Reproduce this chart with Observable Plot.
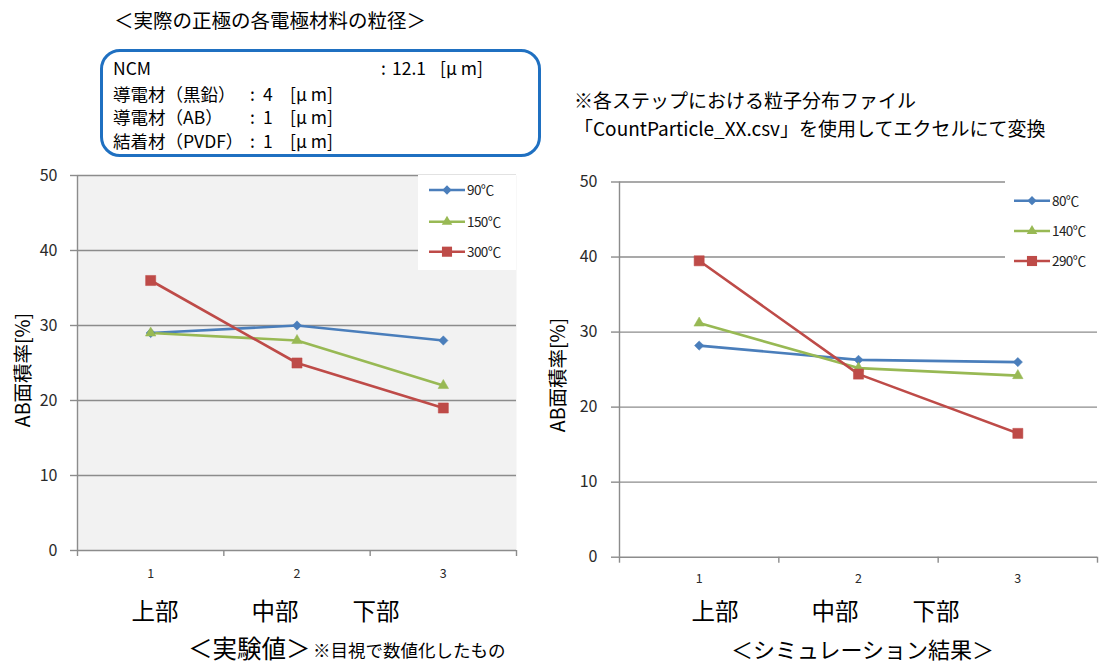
<!DOCTYPE html>
<html><head><meta charset="utf-8">
<script src="https://cdn.jsdelivr.net/npm/d3@7"></script>
<script src="https://cdn.jsdelivr.net/npm/@observablehq/plot@0.6"></script>
<style>
body{margin:0;background:#fff;}
#root{position:relative;width:1102px;height:664px;overflow:hidden;font-family:"Noto Sans CJK JP","Noto Sans",sans-serif;color:#000;}
.t{position:absolute;white-space:nowrap;}
.p{position:absolute;}
</style></head><body><div id="root"></div>
<script>
// ---- data ----
const positions = [1, 2, 3];
const positionNames = ["上部", "中部", "下部"];
const yTicks = [0, 10, 20, 30, 40, 50];

const expSeries = ["90℃", "150℃", "300℃"];
const exp90 = [29, 30, 28];
const exp150 = [29, 28, 22];
const exp300 = [36, 25, 19];

const simSeries = ["80℃", "140℃", "290℃"];
const sim80 = [28.2, 26.3, 26.0];
const sim140 = [31.2, 25.2, 24.2];
const sim290 = [39.5, 24.4, 16.5];

const materialNames = ["NCM", "導電材（黒鉛）", "導電材（AB）", "結着材（PVDF）"];
const materialSizes = ["12.1", "4", "1", "1"];
const unitText = "[μ m]";

const titleText = "＜実際の正極の各電極材料の粒径＞";
const noteLines = ["※各ステップにおける粒子分布ファイル", "「CountParticle_XX.csv」を使用してエクセルにて変換"];
const yTitle = "AB面積率[%]";
const expCaption = "＜実験値＞";
const expNote = "※目視で数値化したもの";
const simCaption = "＜シミュレーション結果＞";

// ---- styles ----
const colors = ["#4a7ebb", "#98b954", "#be4b48"];
const symbols = ["diamond2", "triangle", "square"];
const symR = [4.2, 3.9, 5.7];
const FONT = '"Noto Sans CJK JP","Noto Sans",sans-serif';
const root = document.getElementById("root");

function txt(s, x, cy, size, o = {}) {
  const d = document.createElement("div");
  d.className = "t";
  d.textContent = s;
  d.style.left = x + "px";
  d.style.top = (cy - size * 0.56) + "px";
  d.style.fontSize = size + "px";
  d.style.lineHeight = (size * 1.12) + "px";
  if (o.center) d.style.transform = "translateX(-50%)";
  if (o.color) d.style.color = o.color;
  if (o.ls) d.style.letterSpacing = o.ls;
  if (o.family) d.style.fontFamily = o.family;
  root.appendChild(d);
  return d;
}

function chart(cfg) {
  const {series, values, left, top, width, height, ml, mr, mt, mb, bg, tickPad, tickSize, xPad} = cfg;
  const marks = [];
  if (bg) marks.push(Plot.frame({fill: bg, stroke: "none"}));
  marks.push(Plot.ruleY(yTicks.slice(1), {stroke: "#8c8c8c", strokeWidth: 1.4}));
  marks.push(Plot.ruleY([0], {stroke: "#8c8c8c", strokeWidth: 1.4}));
  marks.push(Plot.ruleX([0.5], {stroke: "#8c8c8c", strokeWidth: 1.4}));
  marks.push(Plot.axisY({ticks: yTicks, tickSize, tickPadding: tickPad, stroke: "#8c8c8c", strokeWidth: 1.4, fill: "#2a2a2a", fontSize: 16, label: null}));
  marks.push(Plot.axisX({ticks: [0.5, 1.5, 2.5, 3.5], tickSize: 6, tickFormat: () => "", stroke: "#8c8c8c", strokeWidth: 1.4, label: null}));
  marks.push(Plot.axisX({ticks: positions, tickSize: 0, tickPadding: xPad, tickFormat: d => String(d), fill: "#2a2a2a", fontSize: 12.5, label: null}));
  series.forEach((s, i) => {
    const data = positions.map((p, j) => ({pos: p, v: values[i][j]}));
    marks.push(Plot.line(data, {x: "pos", y: "v", stroke: colors[i], strokeWidth: 2.6}));
  });
  series.forEach((s, i) => {
    const data = positions.map((p, j) => ({pos: p, v: values[i][j]}));
    marks.push(Plot.dot(data, {x: "pos", y: "v", fill: colors[i], stroke: colors[i], strokeWidth: 0.5, symbol: symbols[i], r: symR[i]}));
  });
  const svg = Plot.plot({
    width, height, marginLeft: ml, marginRight: mr, marginTop: mt, marginBottom: mb,
    style: {fontFamily: FONT, background: "transparent", overflow: "visible"},
    x: {domain: [0.5, 3.5], axis: null},
    y: {domain: [0, 50], axis: null},
    marks
  });
  svg.classList.add("p");
  svg.style.left = left + "px";
  svg.style.top = top + "px";
  root.appendChild(svg);
}

// left chart (experiment)
chart({series: expSeries, values: [exp90, exp150, exp300], left: 0, top: 160, width: 540, height: 440,
  ml: 77, mr: 24, mt: 15, mb: 50, bg: "#f2f2f2", tickPad: 13, tickSize: 7, xPad: 19});
// right chart (simulation)
chart({series: simSeries, values: [sim80, sim140, sim290], left: 540, top: 160, width: 562, height: 440,
  ml: 79, mr: 5, mt: 21.5, mb: 43.3, bg: null, tickPad: 14, tickSize: 8, xPad: 17});

// legends
const ov = d3.select(root).append("svg").attr("class", "p").attr("width", 1102).attr("height", 664)
  .style("left", "0px").style("top", "0px").style("overflow", "visible");
function legend(series, box, x1, x2, ys, lx) {
  ov.append("rect").attr("x", box[0]).attr("y", box[1]).attr("width", box[2]).attr("height", box[3]).attr("fill", "#fff");
  series.forEach((s, i) => {
    ov.append("line").attr("x1", x1).attr("x2", x2).attr("y1", ys[i]).attr("y2", ys[i])
      .attr("stroke", colors[i]).attr("stroke-width", 2.6);
    const sym = {diamond2: d3.symbolDiamond2, triangle: d3.symbolTriangle, square: d3.symbolSquare}[symbols[i]];
    ov.append("path").attr("d", d3.symbol(sym, Math.PI * symR[i] * symR[i])())
      .attr("transform", `translate(${(x1 + x2) / 2},${ys[i]})`).attr("fill", colors[i]);
    ov.append("text").attr("x", lx).attr("y", ys[i]).attr("dy", "0.36em").text(s)
      .attr("font-family", FONT).attr("font-size", 13.5).attr("letter-spacing", "-0.6px").attr("fill", "#222");
  });
}
legend(expSeries, [418, 175, 98, 95], 429, 465, [190, 221.7, 251.7], 467);
legend(simSeries, [1005, 176, 97, 96], 1014, 1050, [200.7, 231, 261], 1052);

// y titles
[[22, 370], [557, 375]].forEach(([cx, cy]) => {
  const d = document.createElement("div");
  d.className = "t";
  d.textContent = yTitle;
  d.style.fontSize = "19.5px";
  d.style.lineHeight = "20px";
  d.style.left = cx + "px";
  d.style.top = cy + "px";
  d.style.transform = "translate(-50%,-50%) rotate(-90deg)";
  root.appendChild(d);
});

// top-left title & box
txt(titleText, 114, 20, 19.5);
const box = document.createElement("div");
box.style.cssText = "position:absolute;left:100px;top:49px;width:441px;height:108px;box-sizing:border-box;border:3.5px solid #1f70c1;border-radius:20px;";
root.appendChild(box);
const rowY = [68, 93.5, 117, 140.5];
materialNames.forEach((n, i) => {
  txt(n, 113, rowY[i], 17.5);
  if (i === 0) {
    txt(":", 381, rowY[i], 17.5);
    txt(materialSizes[i], 392, rowY[i], 17.5);
    txt(unitText, 440, rowY[i], 17.5);
  } else {
    txt(":", 250, rowY[i], 17.5);
    txt(materialSizes[i], 263, rowY[i], 17.5);
    txt(unitText, 290, rowY[i], 17.5);
  }
});

// right notes (one two-line block)
const notes = document.createElement("div");
notes.className = "t";
notes.style.cssText += "left:574px;top:86px;font-size:19px;line-height:28px;";
noteLines.forEach((l, i) => {
  if (i) notes.appendChild(document.createElement("br"));
  notes.appendChild(document.createTextNode(l));
});
root.appendChild(notes);

// position names
[155, 275, 376].forEach((x, i) => txt(positionNames[i], x, 610, 23.5, {center: true}));
[715, 835, 936].forEach((x, i) => txt(positionNames[i], x, 610, 23.5, {center: true}));

// captions
txt(expCaption, 188, 648, 24.5);
txt(expNote, 313, 650, 17.5);
txt(simCaption, 731, 648, 22);
</script></body></html>
